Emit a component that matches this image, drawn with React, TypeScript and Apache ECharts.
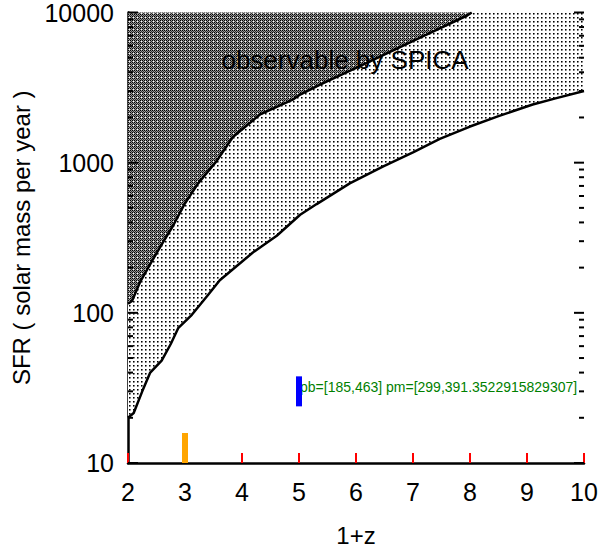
import React, { useEffect, useRef } from "react";
import * as echarts from "echarts";

// ---- data ----
const X_MIN = 2;
const X_MAX = 10;
const Y_MIN = 10;
const Y_MAX = 10000;

const lowerCurve: number[][] = [
  [2.0, 20], [2.1, 21.5], [2.25, 30], [2.39, 40], [2.59, 48], [2.75, 62], [2.88, 79],
  [3.12, 97], [3.4, 131], [3.61, 165], [3.84, 195], [4.19, 252], [4.61, 326],
  [5.02, 450], [5.31, 530], [5.89, 728], [6.47, 942], [7.0, 1170], [7.47, 1440],
  [8.0, 1740], [8.5, 2040], [9.1, 2440], [9.5, 2680], [10.0, 3000],
];
const upperCurve: number[][] = [
  [2.0, 115], [2.07, 120], [2.21, 160], [2.44, 228], [2.61, 293], [2.79, 380],
  [3.0, 537], [3.23, 728], [3.56, 1031], [3.84, 1483], [4.32, 2099], [4.89, 2630],
  [5.02, 2843], [5.37, 3310], [6.19, 4613], [7.18, 6950], [7.95, 9550], [8.03, 10000],
];

const xTicks = [2, 3, 4, 5, 6, 7, 8, 9, 10];
const yMajorTicks = [10, 100, 1000, 10000];
const yMinorTicks = [
  20, 30, 40, 50, 60, 70, 80, 90,
  200, 300, 400, 500, 600, 700, 800, 900,
  2000, 3000, 4000, 5000, 6000, 7000, 8000, 9000,
];

const annotation = "observable by SPICA";
const xName = "1+z";
const yName = "SFR ( solar mass per year )";
const FONT = "'Liberation Sans', Arial, Helvetica, sans-serif";

function makePattern(size: number, pixels: number[][]) {
  const c = document.createElement("canvas");
  c.width = size;
  c.height = size;
  const ctx = c.getContext("2d")!;
  for (let r = 0; r < size; r++) {
    for (let k = 0; k < size; k++) {
      const v = pixels[r][k];
      ctx.fillStyle = `rgb(${v},${v},${v})`;
      ctx.fillRect(k, r, 1, 1);
    }
  }
  return { image: c.toDataURL(), repeat: "repeat", imageWidth: size, imageHeight: size } as any;
}

const TICK_W = 2;

export default function App() {
  const ref = useRef<HTMLDivElement>(null);
  useEffect(() => {
    if (!ref.current) return;
    const chart = echarts.init(ref.current, undefined, { renderer: "svg" });

    const darkPattern = makePattern(4, [
      [0, 150, 0, 150],
      [150, 255, 150, 50],
      [0, 150, 0, 150],
      [150, 50, 150, 50],
    ]);
    const lightPattern = makePattern(4, [
      [255, 255, 255, 255],
      [255, 0, 110, 255],
      [255, 110, 180, 255],
      [255, 255, 255, 255],
    ]);

    const axisLine = { show: true, lineStyle: { color: "#000", width: 2.5 } };
    const axisTick = { show: true, inside: true, length: 10, lineStyle: { color: "red", width: 2 } };
    const labelStyle = { color: "#000", fontSize: 25, fontFamily: FONT };

    const annotationGraphic = {
      type: "text", id: "annotation", x: 345, y: 60, z: 20,
      style: { text: annotation, fill: "#000", fontSize: 26, fontFamily: FONT, textAlign: "center", textVerticalAlign: "middle" },
    };

    chart.setOption({
      animation: false,
      grid: { left: 128, top: 7, width: 456, height: 456 },
      xAxis: {
        type: "value", min: X_MIN, max: X_MAX, interval: 1,
        name: xName, nameLocation: "middle", nameGap: 60,
        nameTextStyle: { color: "#000", fontSize: 24, fontFamily: FONT },
        axisLine, axisTick, axisLabel: { ...labelStyle, margin: 16 }, splitLine: { show: false },
      },
      yAxis: {
        type: "log", logBase: 10, min: Y_MIN, max: Y_MAX,
        name: yName, nameLocation: "middle", nameGap: 94,
        nameTextStyle: { color: "#000", fontSize: 24, fontFamily: FONT },
        axisLine, axisTick,
        axisLabel: { ...labelStyle, margin: 14, formatter: (v: number) => String(Math.round(v)) },
        splitLine: { show: false }, minorTick: { show: false },
      },
      graphic: [annotationGraphic],
      series: [
        { type: "line", name: "lower", data: lowerCurve, symbol: "none", z: 2, lineStyle: { color: "#000", width: 2.5 }, areaStyle: { origin: "end", color: lightPattern, opacity: 1 } },
        { type: "line", name: "upper", data: upperCurve, symbol: "none", z: 3, lineStyle: { color: "#000", width: 2.5 }, areaStyle: { origin: "end", color: darkPattern, opacity: 1 } },
        {
          type: "custom", name: "y ticks", z: 11, silent: true, clip: false,
          data: [...yMajorTicks.map((v) => [X_MIN, v, 10]), ...yMinorTicks.map((v) => [X_MIN, v, 5])],
          encode: { x: 0, y: 1 },
          renderItem: (params: any, api: any) => {
            const yv = api.value(1);
            const len = api.value(2);
            const pl = api.coord([X_MIN, yv]);
            const pr = api.coord([X_MAX, yv]);
            return {
              type: "group",
              children: [
                { type: "rect", shape: { x: pl[0], y: pl[1] - TICK_W / 2, width: len, height: TICK_W }, style: { fill: "#000" } },
                { type: "rect", shape: { x: pr[0] - len, y: pr[1] - TICK_W / 2, width: len, height: TICK_W }, style: { fill: "#000" } },
              ],
            };
          },
        },
      ],
    });

    const extra: any[] = [];
    const pb = chart.convertToPixel({ gridIndex: 0 }, [3, Y_MIN]) as number[];
    const pm = chart.convertToPixel({ gridIndex: 0 }, [5, 30]) as number[];
    extra.push({ type: "text", id: "dbg", x: 300, y: 380, z: 40, style: { text: "pb=" + JSON.stringify(pb) + " pm=" + JSON.stringify(pm), fontSize: 14, fill: "green" } });
    extra.push({ type: "rect", id: "dbg1", z: 40, shape: { x: pm[0] - 3, y: pm[1] - 15, width: 6, height: 30 }, style: { fill: "blue" } });
    extra.push({ type: "rect", id: "dbg2", z: 40, shape: { x: pb[0] - 3, y: pb[1] - 30, width: 6, height: 30 }, style: { fill: "orange" } });
    chart.setOption({ graphic: [annotationGraphic, ...extra] });

    return () => chart.dispose();
  }, []);

  return <div ref={ref} style={{ position: "absolute", left: 0, top: 0, width: 605, height: 557 }} />;
}
